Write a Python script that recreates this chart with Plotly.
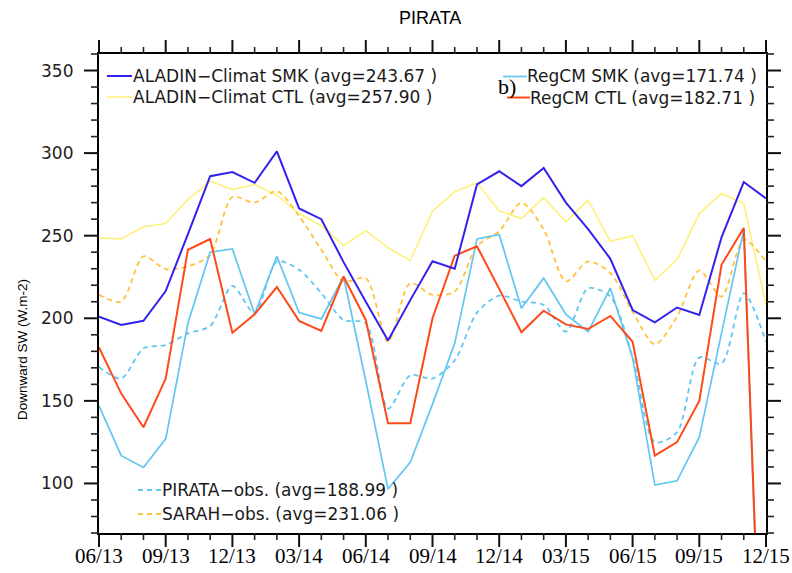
import plotly.graph_objects as go

# ---------------- data ----------------
month_index = list(range(31))  # 06/2013 ... 12/2015, monthly
tick_positions = [0, 3, 6, 9, 12, 15, 18, 21, 24, 27, 30]
tick_labels = ["06/13", "09/13", "12/13", "03/14", "06/14", "09/14",
               "12/14", "03/15", "06/15", "09/15", "12/15"]
y_tick_values = [100, 150, 200, 250, 300, 350]
y_minor_values = list(range(70, 361, 10))

aladin_smk = [201, 196, 198.5, 216.5, 251, 286, 288.5, 282, 301, 266.5, 260,
              234, 210, 186.5, 211, 234.5, 230, 281, 289, 280, 291, 270, 254,
              236, 205, 197.5, 206.5, 202, 249, 282.5, 272.5]
aladin_ctl = [248.7, 248, 255.4, 257.4, 272, 283, 278, 281, 274.6, 263.4, 256,
              244, 253, 242.6, 235, 264.8, 276.6, 282, 265, 260.4, 273, 258.4,
              271.5, 246.6, 250, 223, 235.5, 263.4, 275.6, 269.5, 208]
regcm_smk = [147, 116.8, 109.7, 127, 197, 240, 242, 202.6, 237.5, 203.4, 199.6,
             225.3, 162, 96.6, 112.8, 148, 184.8, 248, 250.7, 206, 224.3, 202.4,
             191.9, 218.2, 176, 99, 101.6, 128, 191, 253.7, -119]
regcm_ctl = [182.4, 154.4, 134, 163.5, 241.5, 248, 191.3, 202.4, 218.9, 198.4,
             192.3, 225.3, 199, 136.5, 136.5, 200, 237.9, 243.6, 217.8, 191.5,
             204.6, 196.3, 193.5, 201.4, 185.8, 116.8, 125, 149.9, 232.4, 254.7,
             -110]
pirata_obs = [170.6, 163.5, 181.8, 183.8, 190.9, 195.3, 219.6, 203, 234.4, 229.4,
              215.2, 199, 197, 145.3, 165.5, 163.5, 174.6, 203.4, 213.7, 210.1,
              208.1, 191.9, 218.2, 213.1, 176.6, 125, 131, 176.3, 172.6, 215.2,
              185.8]
sarah_obs = [214.2, 210.1, 237.5, 229.8, 231.4, 238.5, 273.4, 270, 277, 261.8,
             241.5, 222.3, 224.3, 185.8, 221.3, 214.2, 216.2, 243.6, 252.7, 270,
             253.7, 222.3, 234.4, 227.4, 204, 184.2, 201, 229, 213.1, 247.6, 234.4]

legend_texts = {
    "aladin_smk": "ALADIN\u2212Climat SMK (avg=243.67 )",
    "aladin_ctl": "ALADIN\u2212Climat CTL (avg=257.90 )",
    "regcm_smk": "RegCM SMK (avg=171.74 )",
    "regcm_ctl": "RegCM CTL (avg=182.71 )",
    "pirata_obs": "PIRATA\u2212obs. (avg=188.99 )",
    "sarah_obs": "SARAH\u2212obs. (avg=231.06 )",
}

# ---------------- styles ----------------
C_BLUE = "#3322ee"
C_YELLOW = "#fff07a"
C_CYAN = "#62c6f0"
C_RED = "#ff4a18"
C_ORANGE = "#ffc23a"
DASH = "5px,4px"

W, H = 792, 573
L, R, T, B = 99, 26, 54, 40
PW, PH = W - L - R, H - T - B
X_RANGE = [0, 30]
Y_RANGE = [70, 360]
MAJOR_LEN, MINOR_LEN = 14, 7


def px(x):
    return (x - L) / PW


def py(y):
    return (H - B - y) / PH


def xfrac(v):
    return (v - X_RANGE[0]) / (X_RANGE[1] - X_RANGE[0])


def yfrac(v):
    return (v - Y_RANGE[0]) / (Y_RANGE[1] - Y_RANGE[0])


fig = go.Figure()

series = [
    (aladin_ctl, C_YELLOW, 1.6, "solid", "linear"),
    (pirata_obs, C_CYAN, 1.8, DASH, "spline"),
    (sarah_obs, C_ORANGE, 1.8, DASH, "spline"),
    (regcm_smk, C_CYAN, 1.7, "solid", "linear"),
    (regcm_ctl, C_RED, 2.0, "solid", "linear"),
    (aladin_smk, C_BLUE, 2.0, "solid", "linear"),
]
for vals, col, w, dash, shape in series:
    line = dict(color=col, width=w, dash=dash, shape=shape)
    if shape == "spline":
        line["smoothing"] = 0.8
    fig.add_trace(go.Scatter(x=month_index, y=vals, mode="lines", line=line,
                             showlegend=False, hoverinfo="skip"))

# ---------------- tick marks on all four sides (paper coordinates) -------
major_line = dict(color="#111", width=2.0)
minor_line = dict(color="#222", width=1.6)
for m in month_index:
    major = m in tick_positions
    ln = (MAJOR_LEN if major else MINOR_LEN) / PH
    for base, sign in ((0.0, -1), (1.0, 1)):
        fig.add_shape(type="line", xref="paper", yref="paper",
                      x0=xfrac(m), x1=xfrac(m), y0=base, y1=base + sign * ln,
                      line=major_line if major else minor_line)
for v in y_minor_values:
    major = v in y_tick_values
    ln = (MAJOR_LEN + 1 if major else MINOR_LEN + 1) / PW
    for base, sign in ((0.0, -1), (1.0, 1)):
        fig.add_shape(type="line", xref="paper", yref="paper",
                      y0=yfrac(v), y1=yfrac(v), x0=base, x1=base + sign * ln,
                      line=major_line if major else minor_line)

# ---------------- legends ----------------
legend_font = dict(family="DejaVu Sans", size=17, color="#1a1a1a")
# (sample x0, x1, y, text x, color, dash, width, key)
entries = [
    (107, 132, 76, 131, C_BLUE, "solid", 2.0, "aladin_smk"),
    (107, 132, 97, 131, C_YELLOW, "solid", 1.6, "aladin_ctl"),
    (503, 527, 76.5, 525, C_CYAN, "solid", 1.7, "regcm_smk"),
    (507, 530, 97.5, 528, C_RED, "solid", 2.0, "regcm_ctl"),
    (138, 162, 490, 160, C_CYAN, DASH, 1.8, "pirata_obs"),
    (138, 162, 514, 160, C_ORANGE, DASH, 1.8, "sarah_obs"),
]
for x0, x1, y, tx, col, dash, w, key in entries:
    fig.add_shape(type="line", xref="paper", yref="paper",
                  x0=px(x0), x1=px(x1), y0=py(y), y1=py(y),
                  line=dict(color=col, width=w, dash=dash))
    fig.add_annotation(xref="paper", yref="paper", x=px(tx), y=py(y),
                       xanchor="left", yanchor="middle", showarrow=False,
                       text=legend_texts[key], font=legend_font)

# x tick labels (placed on the data x scale)
for pos, lab in zip(tick_positions, tick_labels):
    fig.add_annotation(xref="x", yref="paper", x=pos, y=py(556),
                       xanchor="center", yanchor="middle", showarrow=False,
                       text=lab, font=dict(family="Liberation Serif", size=21,
                                           color="black"))
# y tick labels (placed on the data y scale)
for v in y_tick_values:
    fig.add_annotation(xref="paper", yref="y", x=px(75), y=v,
                       xanchor="right", yanchor="middle", showarrow=False,
                       text=str(v), font=dict(family="DejaVu Sans", size=17,
                                              color="#222"))

# "b)" panel label
fig.add_annotation(xref="paper", yref="paper", x=px(507), y=py(86),
                   xanchor="center", yanchor="middle", showarrow=False,
                   text="b)", font=dict(family="Liberation Serif", size=22,
                                        color="black"))
# title
fig.add_annotation(xref="paper", yref="paper", x=px(430), y=py(18),
                   xanchor="center", yanchor="middle", showarrow=False,
                   text="PIRATA",
                   font=dict(family="Liberation Sans", size=18,
                             color="black"))
# y-axis title
fig.add_annotation(xref="paper", yref="paper", x=px(22), y=py(350),
                   xanchor="center", yanchor="middle", showarrow=False,
                   textangle=-90, text="Downward SW (W.m-2)",
                   font=dict(family="Liberation Sans", size=13.5,
                             color="black"))

axis_common = dict(showgrid=False, zeroline=False, showline=True,
                   linecolor="black", linewidth=1.6, mirror=True,
                   ticks="", showticklabels=False, automargin=False,
                   fixedrange=True)
fig.update_layout(
    xaxis=dict(**axis_common, range=X_RANGE),
    yaxis=dict(**axis_common, range=Y_RANGE),
    width=W, height=H, margin=dict(l=L, r=R, t=T, b=B),
    paper_bgcolor="white", plot_bgcolor="white",
)

fig.write_html(
    "out.html",
    config={"displayModeBar": False, "staticPlot": True},
    post_script="document.body.style.margin='0';"
                "document.body.style.overflow='hidden';",
)
